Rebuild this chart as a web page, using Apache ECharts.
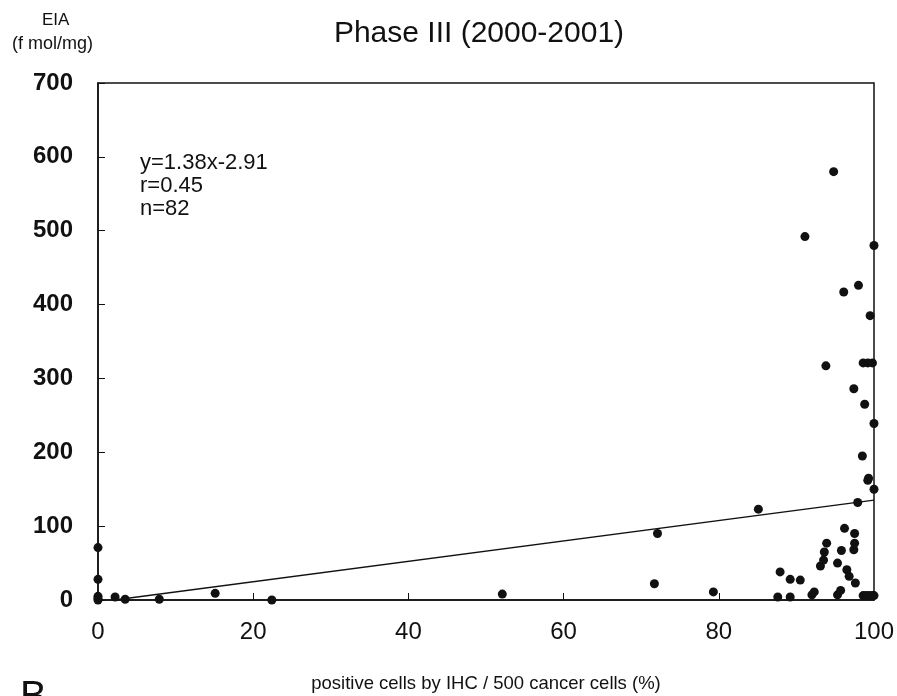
<!DOCTYPE html>
<html>
<head>
<meta charset="utf-8">
<script src="https://cdn.jsdelivr.net/npm/echarts@6/dist/echarts.min.js"></script>
<style>
html,body{margin:0;padding:0;background:#fff;}
#main{width:897px;height:696px;}
</style>
</head>
<body>
<div id="main"></div>
<script>
// points: [positive cells %, EIA fmol/mg]
var lowPoints = [
	[0,71],[0,28],[0,5],[0,2],[0,0],[2.2,4],[3.5,1],[7.9,1],[15.1,9],[22.4,0],
	[52.1,8],[72.1,90],[71.7,22],[79.3,11],[85.1,123]
];
var clusterPoints = [
	[87.6,4],[87.9,38],[89.2,28],[90.5,27],[89.2,4],[92,7],[92.3,11],[93.1,46],
	[93.5,54],[93.6,65],[93.9,77],[95.3,50],[95.3,7],[95.7,13],[95.8,67],[96.2,97],
	[96.5,41],[96.8,32],[97.4,68],[97.5,90],[97.5,77],[97.6,23],[97.9,132],
	[98.6,6],[99,6],[99.4,6],[99.8,6],[100,6],[100,150],[99.2,162]
];
var highPoints = [
	[94.8,580],[91.1,492],[100,480],[98,426],[96.1,417],[99.5,385],[93.8,317],
	[98.6,321],[99.2,321],[99.8,321],[97.4,286],[98.8,265],[100,239],[98.5,195],[99.3,165]
];
// regression y=1.38x-2.91, end points
var fitLine = [[2.1,0],[100,135.1]];
var statsText = ['y=1.38x-2.91','r=0.45','n=82'];

var font = '"Liberation Sans", Arial, sans-serif';
var chart = echarts.init(document.getElementById('main'));

var option = {
	backgroundColor:'#fff',
	animation:false,
	title:{
		text:'Phase III (2000-2001)',
		left:474,
		top:14,
		textAlign:'center',
		textStyle:{fontFamily:font,fontSize:30,fontWeight:'normal',color:'#111'}
	},
	grid:{
		left:98,right:23,top:83,bottom:96,
		outerBoundsMode:'none',
		show:true,borderColor:'#111',borderWidth:1.5
	},
	xAxis:{
		type:'value',min:0,max:100,interval:20,
		axisLine:{lineStyle:{color:'#111',width:1.5}},
		axisTick:{inside:true,length:7,lineStyle:{color:'#111'}},
		axisLabel:{margin:20,fontFamily:font,fontSize:24,color:'#111'},
		splitLine:{show:false},
		name:'positive cells by IHC / 500 cancer cells (%)',
		nameLocation:'middle',
		nameGap:74,
		nameTextStyle:{fontFamily:font,fontSize:18.5,color:'#111',verticalAlign:'top'}
	},
	yAxis:{
		type:'value',min:0,max:700,interval:100,
		axisLine:{lineStyle:{color:'#111',width:1.5}},
		axisTick:{inside:true,length:7,lineStyle:{color:'#111'}},
		axisLabel:{margin:25,fontFamily:font,fontSize:24,fontWeight:'bold',color:'#111'},
		splitLine:{show:false}
	},
	graphic:[
		{type:'text',left:42,top:12,style:{text:'EIA',font:'17px '+font,fill:'#111'}},
		{type:'text',left:12,top:35,style:{text:'(f mol/mg)',font:'18px '+font,fill:'#111'}},
		{type:'text',left:140,top:151,style:{text:statsText.join('\n'),font:'22px '+font,fill:'#111',lineHeight:23}},
		{type:'text',left:20,top:678,style:{text:'B',font:'40px '+font,fill:'#111'}}
	],
	series:[
		{type:'scatter',data:lowPoints,symbolSize:9,itemStyle:{color:'#111',opacity:1}},
		{type:'scatter',data:clusterPoints,symbolSize:9,itemStyle:{color:'#111',opacity:1}},
		{type:'scatter',data:highPoints,symbolSize:9,itemStyle:{color:'#111',opacity:1}},
		{type:'line',data:fitLine,symbol:'none',lineStyle:{color:'#111',width:1.3}}
	]
};
chart.setOption(option);
</script>
</body>
</html>
